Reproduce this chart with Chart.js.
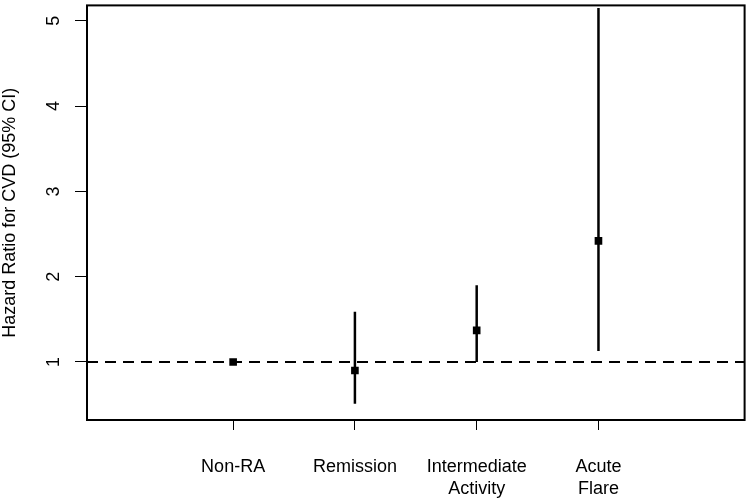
<!DOCTYPE html>
<html>
<head>
<meta charset="utf-8">
<script src="https://cdn.jsdelivr.net/npm/chart.js@4.4.1/dist/chart.umd.min.js"></script>
<style>
  html, body { margin: 0; padding: 0; background: #fff; }
  #wrap { width: 750px; height: 501px; }
</style>
</head>
<body>
<div id="wrap"><canvas id="chart" width="750" height="501"></canvas></div>
<script>
// data
var groups = ["Non-RA", "Remission", "Intermediate Activity", "Acute Flare"];
var groupLines = [["Non-RA"], ["Remission"], ["Intermediate", "Activity"], ["Acute", "Flare"]];
var groupPos = [1, 2, 3, 4];
var hazardRatio = [1.00, 0.90, 1.37, 2.42];
var ciLower = [null, 0.51, 1.00, 1.13];
var ciUpper = [null, 1.59, 1.90, 5.15];
var yTicks = [1, 2, 3, 4, 5];

var FONT = "'Liberation Sans', Arial, Helvetica, sans-serif";

// error bars: one short vertical segment per group
var ciData = [];
groupPos.forEach(function (x, i) {
    if (ciLower[i] === null) return;
    ciData.push({ x: x, y: ciLower[i] });
    ciData.push({ x: x, y: ciUpper[i] });
    ciData.push({ x: x, y: null });
});

var pointData = groupPos.map(function (x, i) { return { x: x, y: hazardRatio[i] }; });

// box around the plot + rotated y tick labels like base R
var framePlugin = {
    id: 'frame',
    afterDraw: function (chart) {
        var ctx = chart.ctx, a = chart.chartArea, ys = chart.scales.y;
        ctx.save();
        ctx.strokeStyle = '#000';
        ctx.lineWidth = 2;
        ctx.strokeRect(a.left, a.top, a.right - a.left, a.bottom - a.top);
        ctx.fillStyle = '#000';
        ctx.font = '18px ' + FONT;
        ctx.textAlign = 'center';
        ctx.textBaseline = 'middle';
        yTicks.forEach(function (v) {
            ctx.save();
            ctx.translate(54, ys.getPixelForValue(v));
            ctx.rotate(-Math.PI / 2);
            ctx.fillText(String(v), 0, 0);
            ctx.restore();
        });
        ctx.restore();
    }
};

new Chart(document.getElementById('chart'), {
    type: 'line',
    data: {
        datasets: [
            {
                label: 'HR',
                data: pointData,
                showLine: false,
                pointStyle: 'rect',
                pointRadius: 5.4,
                pointBorderWidth: 0,
                pointBackgroundColor: '#000',
                order: 0
            },
            {
                label: '95% CI',
                data: ciData,
                borderColor: '#000',
                borderWidth: 2.5,
                pointRadius: 0,
                spanGaps: false,
                order: 1
            },
            {
                label: 'ref',
                data: [{ x: -0.2, y: 1 }, { x: 5.2, y: 1 }],
                borderColor: '#000',
                borderWidth: 2,
                borderDash: [11, 7],
                pointRadius: 0,
                order: 2
            }
        ]
    },
    options: {
        responsive: false,
        animation: false,
        events: [],
        layout: { padding: { top: 3, right: 4, left: 0, bottom: 0 } },
        plugins: { legend: { display: false }, tooltip: { enabled: false } },
        scales: {
            x: {
                type: 'linear',
                min: -0.2,
                max: 5.2,
                afterBuildTicks: function (s) { s.ticks = groupPos.map(function (v) { return { value: v }; }); },
                afterFit: function (s) { s.height = 81; },
                border: { display: false },
                grid: { drawOnChartArea: false, drawTicks: true, tickLength: 10, color: '#000', lineWidth: 1 },
                ticks: {
                    padding: 26,
                    maxRotation: 0,
                    autoSkip: false,
                    color: '#000',
                    font: { family: FONT, size: 18, lineHeight: '22px' },
                    callback: function (v) {
                        var i = groupPos.indexOf(v);
                        return i >= 0 ? groupLines[i] : '';
                    }
                }
            },
            y: {
                type: 'linear',
                min: 0.32,
                max: 5.18,
                afterBuildTicks: function (s) { s.ticks = yTicks.map(function (v) { return { value: v }; }); },
                afterFit: function (s) { s.width = 87; },
                border: { display: false },
                grid: { drawOnChartArea: false, drawTicks: true, tickLength: 12, color: '#000', lineWidth: 1 },
                ticks: { display: false },
                title: {
                    display: true,
                    text: 'Hazard Ratio for CVD (95% CI)',
                    color: '#000',
                    padding: 0,
                    font: { family: FONT, size: 18, lineHeight: 1.1 }
                }
            }
        }
    },
    plugins: [framePlugin]
});
</script>
</body>
</html>
